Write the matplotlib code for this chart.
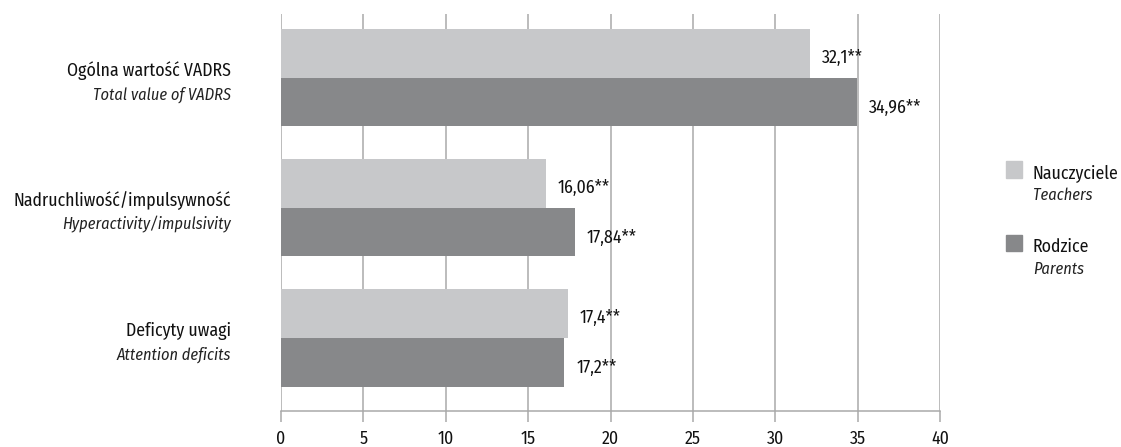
import matplotlib
matplotlib.use("Agg")
import matplotlib.pyplot as plt
from matplotlib import font_manager
from matplotlib.patches import Rectangle

# ---- data ----
categories_pl = ["Ogólna wartość VADRS", "Nadruchliwość/impulsywność", "Deficyty uwagi"]
categories_en = ["Total value of VADRS", "Hyperactivity/impulsivity", "Attention deficits"]
teachers = [32.1, 16.06, 17.4]
parents = [34.96, 17.84, 17.2]
teacher_labels = ["32,1**", "16,06**", "17,4**"]
parent_labels = ["34,96**", "17,84**", "17,2**"]
series_pl = ["Nauczyciele", "Rodzice"]
series_en = ["Teachers", "Parents"]
xticks = [0, 5, 10, 15, 20, 25, 30, 35, 40]

# ---- font selection (condensed sans, with italic) ----
entries = font_manager.fontManager.ttflist
def has(name, style):
    return any(f.name == name and f.style == style and 300 <= int(f.weight) <= 500 for f in entries)
candidates = ["Myriad Pro Condensed", "PT Sans Narrow", "Fira Sans Condensed", "Roboto Condensed",
              "Asap Condensed", "Archivo Narrow", "Barlow Semi Condensed", "Liberation Sans Narrow"]
fam = "DejaVu Sans"
for c in candidates:
    if has(c, "normal") and has(c, "italic"):
        fam = c
        break
plt.rcParams['font.family'] = [fam, 'DejaVu Sans']

c_light = "#c7c8ca"
c_dark = "#87888a"
c_grid = "#a9a9a9"
c_text = "#111111"
c_ital = "#222222"

W, H = 1121, 447
fig = plt.figure(figsize=(W / 100, H / 100), dpi=100)
renderer = fig.canvas.get_renderer()

def width_px(s, size, **kw):
    t = fig.text(0, 0, s, fontsize=size, **kw)
    w = t.get_window_extent(renderer).width
    t.remove()
    return w

FS = 12 * 218 / width_px(categories_pl[1], 12)
FSI = FS * 0.92
ITAL = dict(style='italic', color=c_ital)

ax = fig.add_axes([281 / W, 36 / H, (940 - 281) / W, (411 - 14) / H])

bh = 48.5 / 130
ys = list(range(len(categories_pl)))
ax.barh([y - bh / 2 for y in ys], teachers, height=bh, color=c_light, zorder=2)
ax.barh([y + bh / 2 for y in ys], parents, height=bh, color=c_dark, zorder=2)

for y, v, lab in zip(ys, teachers, teacher_labels):
    ax.annotate(lab, (v, y - bh / 2), xytext=(12, -9.5), textcoords='offset pixels',
                va='baseline', ha='left', fontsize=FS, color=c_text)
for y, v, lab in zip(ys, parents, parent_labels):
    ax.annotate(lab, (v, y + bh / 2), xytext=(12, -10.5), textcoords='offset pixels',
                va='baseline', ha='left', fontsize=FS, color=c_text)

# category labels
for y, pl, en in zip(ys, categories_pl, categories_en):
    ax.annotate(pl, (0, y), xycoords=('axes fraction', 'data'), xytext=(-50, 1.5),
                textcoords='offset pixels', ha='right', va='baseline', fontsize=FS,
                color=c_text, annotation_clip=False)
    ax.annotate(en, (0, y), xycoords=('axes fraction', 'data'), xytext=(-50, -21.5),
                textcoords='offset pixels', ha='right', va='baseline', fontsize=FSI,
                annotation_clip=False, **ITAL)

ax.set_xlim(0, 40)
ax.set_ylim(2.5615, -0.492)
ax.set_xticks(xticks)
ax.set_xticklabels([str(t) for t in xticks], fontsize=FS, color=c_text)
for t in ax.get_xticklabels():
    t.set_va('baseline')
ax.set_yticks([])
ax.tick_params(axis='x', length=8, width=1.1, color=c_grid, pad=15.8)
ax.grid(axis='x', color=c_grid, linewidth=1.1)
ax.set_axisbelow(True)
for s in ['left', 'right', 'top']:
    ax.spines[s].set_visible(False)
ax.spines['bottom'].set_color(c_grid)
ax.spines['bottom'].set_linewidth(1.1)

# legend
leg = [(161, c_light, series_pl[0], series_en[0]), (235, c_dark, series_pl[1], series_en[1])]
for top, col, pl, en in leg:
    fig.patches.append(Rectangle((1006 / W, 1 - (top + 16.5) / H), 16 / W, 16.5 / H,
                                 transform=fig.transFigure, color=col))
    fig.text(1033 / W, 1 - (top + 17) / H, pl, ha='left', va='baseline', fontsize=FS, color=c_text)
    fig.text(1033 / W, 1 - (top + 39.5) / H, en, ha='left', va='baseline', fontsize=FSI, **ITAL)

fig.savefig("out.png", dpi=100)
